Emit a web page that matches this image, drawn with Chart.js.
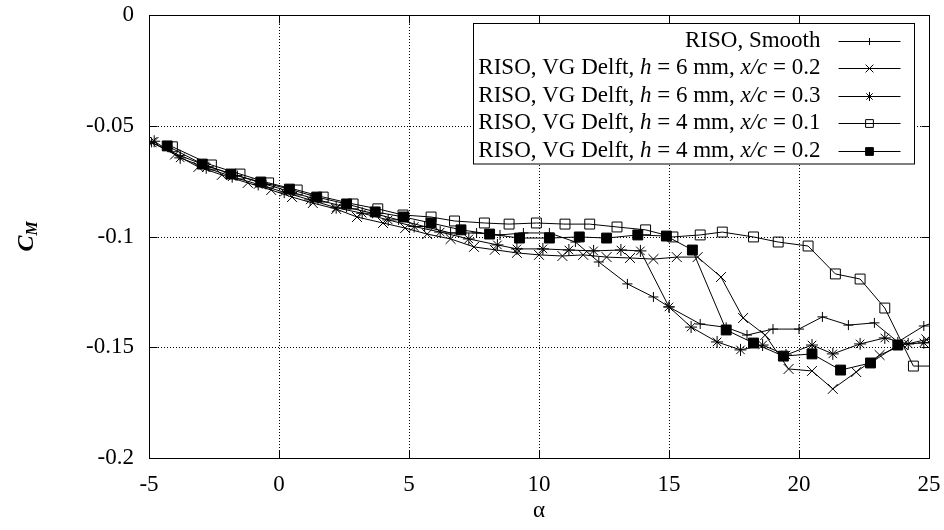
<!DOCTYPE html>
<html>
<head>
<meta charset="utf-8">
<script src="https://cdn.jsdelivr.net/npm/chart.js@4.4.0/dist/chart.umd.min.js"></script>
<style>
  html, body { margin: 0; padding: 0; background: #fff; }
  canvas { display: block; }
</style>
</head>
<body>
<canvas id="cmChart" width="944" height="530"></canvas>
<script>
const ctx = document.getElementById("cmChart").getContext("2d");

// axis ticks
const xTicks = [-5, 0, 5, 10, 15, 20, 25];
const xTickLabels = ["-5", "0", "5", "10", "15", "20", "25"];
const yTicks = [0, -0.05, -0.1, -0.15, -0.2];
const yTickLabels = ["0", "-0.05", "-0.1", "-0.15", "-0.2"];

// series names (h and x/c get italic in the legend)
const seriesNames = [
  "RISO, Smooth",
  "RISO, VG Delft, h = 6 mm, x/c = 0.2",
  "RISO, VG Delft, h = 6 mm, x/c = 0.3",
  "RISO, VG Delft, h = 4 mm, x/c = 0.1",
  "RISO, VG Delft, h = 4 mm, x/c = 0.2",
];

// RISO, Smooth
const alphaSmooth = [-4.9, -3.8, -2.7, -1.6, -0.5, 0.5, 1.5, 2.6, 3.6, 4.6, 5.6, 6.6, 7.6, 8.5, 9.4, 10.4, 11.4, 12.3, 13.4, 14.4, 15.0, 16.2, 17.2, 18.0, 19.0, 20.0, 20.9, 21.9, 22.9, 23.8, 24.8, 25.6];
const cmSmooth = [-0.0575, -0.0635, -0.0685, -0.0725, -0.0765, -0.08, -0.0835, -0.0868, -0.0895, -0.0925, -0.0955, -0.0984, -0.0984, -0.0993, -0.0984, -0.0984, -0.1025, -0.1115, -0.1214, -0.1273, -0.1318, -0.1395, -0.141, -0.1445, -0.1418, -0.1418, -0.1363, -0.14, -0.139, -0.1476, -0.1404, -0.137];

// h = 6 mm, x/c = 0.2
const alphaH6x02 = [-4.9, -4.0, -3.1, -2.2, -1.2, -0.3, 0.5, 1.3, 2.2, 3.0, 4.0, 4.85, 5.7, 6.6, 7.5, 8.3, 9.15, 10.0, 10.9, 11.7, 12.6, 13.5, 14.4, 15.3, 16.1, 17.0, 17.85, 18.7, 19.6, 20.5, 21.3, 22.2, 23.1, 24.0, 24.9, 25.8];
const cmH6x02 = [-0.0575, -0.063, -0.0686, -0.0722, -0.0758, -0.079, -0.0822, -0.0849, -0.0876, -0.0912, -0.0939, -0.0962, -0.0989, -0.1011, -0.1047, -0.106, -0.1074, -0.1083, -0.1088, -0.1083, -0.1093, -0.1097, -0.1102, -0.1093, -0.1093, -0.1183, -0.1368, -0.1445, -0.1598, -0.1607, -0.1688, -0.1612, -0.1535, -0.149, -0.1465, -0.145];

// h = 6 mm, x/c = 0.3
const alphaH6x03 = [-4.8, -3.8, -2.8, -1.8, -0.8, 0.2, 1.2, 2.2, 3.2, 4.2, 5.2, 6.2, 7.3, 8.4, 9.15, 10.15, 11.15, 12.1, 13.15, 13.9, 15.0, 15.85, 16.85, 17.75, 18.6, 19.5, 20.5, 21.3, 22.35, 23.3, 24.2, 24.8, 25.7];
const cmH6x03 = [-0.057, -0.0645, -0.069, -0.073, -0.0765, -0.08, -0.0835, -0.087, -0.0895, -0.0925, -0.0955, -0.098, -0.1011, -0.1038, -0.1056, -0.1056, -0.1061, -0.1065, -0.1061, -0.1065, -0.1318, -0.1409, -0.1476, -0.1512, -0.149, -0.1535, -0.149, -0.153, -0.1485, -0.1458, -0.1485, -0.148, -0.1475];

// h = 4 mm, x/c = 0.1
const alphaH4x01 = [-4.1, -2.6, -1.5, -0.4, 0.7, 1.7, 2.85, 3.8, 4.77, 5.85, 6.75, 7.9, 8.85, 9.9, 11.0, 11.95, 13.0, 14.1, 15.15, 16.2, 17.05, 18.25, 19.2, 20.35, 21.4, 22.35, 23.3, 24.4, 25.6];
const cmH4x01 = [-0.0595, -0.0677, -0.0718, -0.0758, -0.079, -0.0822, -0.0853, -0.0875, -0.0903, -0.0912, -0.093, -0.0939, -0.0944, -0.0939, -0.0944, -0.0944, -0.0957, -0.097, -0.1002, -0.0993, -0.098, -0.1002, -0.1025, -0.1043, -0.1169, -0.1192, -0.1323, -0.1585, -0.1585];

// h = 4 mm, x/c = 0.2
const alphaH4x02 = [-4.3, -2.95, -1.85, -0.7, 0.4, 1.45, 2.6, 3.7, 4.8, 5.85, 7.0, 8.1, 9.25, 10.4, 11.55, 12.6, 13.8, 14.9, 15.9, 17.2, 18.25, 19.4, 20.5, 21.6, 22.75, 23.8];
const cmH4x02 = [-0.0591, -0.0673, -0.0718, -0.0754, -0.0786, -0.0822, -0.0853, -0.0889, -0.0912, -0.0939, -0.097, -0.0989, -0.1007, -0.1007, -0.1002, -0.1007, -0.0993, -0.0998, -0.1061, -0.1422, -0.1481, -0.154, -0.153, -0.1603, -0.1571, -0.149];

const serif = "'Liberation Serif', 'Times New Roman', serif";
const fontSize = 23;

const toPoints = (xs, ys) => xs.map((a, i) => ({ x: a, y: ys[i] }));

// marker look per series
const markers = [
  { pointStyle: "cross", radius: 5, fill: "rgba(0,0,0,0)" },
  { pointStyle: "crossRot", radius: 7, fill: "rgba(0,0,0,0)" },
  { pointStyle: "star", radius: 6, fill: "rgba(0,0,0,0)" },
  { pointStyle: "rect", radius: 7, fill: "rgba(0,0,0,0)" },
  { pointStyle: "rect", radius: 7, fill: "#000" },
];

const seriesData = [
  toPoints(alphaSmooth, cmSmooth),
  toPoints(alphaH6x02, cmH6x02),
  toPoints(alphaH6x03, cmH6x03),
  toPoints(alphaH4x01, cmH4x01),
  toPoints(alphaH4x02, cmH4x02),
];

const datasets = seriesData.map((pts, i) => ({
  label: seriesNames[i],
  data: pts,
  showLine: true,
  borderColor: "#000",
  borderWidth: 1,
  tension: 0,
  fill: false,
  pointStyle: markers[i].pointStyle,
  pointRadius: markers[i].radius,
  pointBorderColor: "#000",
  pointBackgroundColor: markers[i].fill,
  pointBorderWidth: 1,
}));

// split a name so h and x/c can be set in italic
const labelParts = (str) => str.split(/(\bh\b|x\/c)/).filter((p) => p.length);
const partFont = (p) => (p === "h" || p === "x/c" ? "italic " : "") + fontSize + "px " + serif;

function labelWidth(c, str) {
  let w = 0;
  labelParts(str).forEach((p) => { c.font = partFont(p); w += c.measureText(p).width; });
  return w;
}

// right aligned at xRight
function drawLabel(c, str, xRight, yMid) {
  let cx = xRight - labelWidth(c, str);
  c.textAlign = "left";
  c.textBaseline = "middle";
  labelParts(str).forEach((p) => { c.font = partFont(p); c.fillText(p, cx, yMid); cx += c.measureText(p).width; });
}

// grid, frame, inward ticks, legend and axis titles, gnuplot style
const gnuplotLook = {
  id: "gnuplotLook",
  beforeDatasetsDraw(chart) {
    const { ctx: c, chartArea: a, scales: { x, y } } = chart;
    c.save();
    c.strokeStyle = "#000";
    c.lineWidth = 1;
    c.setLineDash([1, 2]);
    c.beginPath();
    xTicks.forEach((v) => {
      const px = Math.round(x.getPixelForValue(v)) + 0.5;
      c.moveTo(px, a.top); c.lineTo(px, a.bottom);
    });
    yTicks.forEach((v) => {
      const py = Math.round(y.getPixelForValue(v)) + 0.5;
      c.moveTo(a.left, py); c.lineTo(a.right, py);
    });
    c.stroke();
    c.restore();
  },
  afterDatasetsDraw(chart) {
    const { ctx: c, chartArea: a, scales: { x, y } } = chart;
    c.save();
    c.strokeStyle = "#000";
    c.fillStyle = "#000";
    c.lineWidth = 1;

    // frame
    const L = Math.round(a.left) + 0.5, R = Math.round(a.right) + 0.5;
    const T = Math.round(a.top) + 0.5, B = Math.round(a.bottom) + 0.5;
    c.strokeRect(L, T, R - L, B - T);

    // inward tick marks on all four sides
    const tl = 8;
    c.beginPath();
    xTicks.forEach((v) => {
      const px = Math.round(x.getPixelForValue(v)) + 0.5;
      c.moveTo(px, B); c.lineTo(px, B - tl);
      c.moveTo(px, T); c.lineTo(px, T + tl);
    });
    yTicks.forEach((v) => {
      const py = Math.round(y.getPixelForValue(v)) + 0.5;
      c.moveTo(L, py); c.lineTo(L + tl, py);
      c.moveTo(R, py); c.lineTo(R - tl, py);
    });
    c.stroke();

    // legend box
    const boxRight = R - 15;
    const boxTop = T + 8;
    const rowH = 27.5;
    const textRight = boxRight - 94;
    const widest = Math.max(...seriesNames.map((n) => labelWidth(c, n)));
    const boxLeft = Math.round(textRight - widest - 5) + 0.5;
    const boxBottom = boxTop + rowH * seriesNames.length + 3;
    c.fillStyle = "#fff";
    c.fillRect(boxLeft, boxTop, boxRight - boxLeft, boxBottom - boxTop);
    c.strokeRect(boxLeft, boxTop, boxRight - boxLeft, boxBottom - boxTop);

    seriesNames.forEach((n, i) => {
      const yMid = boxTop + 17 + i * rowH;
      const yLine = Math.round(yMid) + 0.5;
      c.fillStyle = "#000";
      drawLabel(c, n, textRight, yMid);
      c.beginPath();
      c.moveTo(boxRight - 76, yLine);
      c.lineTo(boxRight - 14, yLine);
      c.stroke();
      c.fillStyle = markers[i].fill;
      Chart.helpers.drawPoint(c, {
        pointStyle: markers[i].pointStyle,
        radius: markers[i].pointStyle === "rect" ? 5.5 : markers[i].radius - 1.5,
        rotation: 0,
        borderWidth: 1,
      }, boxRight - 45, yLine);
    });

    // axis titles
    c.fillStyle = "#000";
    c.textAlign = "center";
    c.textBaseline = "middle";
    c.font = fontSize + "px " + serif;
    c.fillText("\u03b1", (a.left + a.right) / 2, 511);

    c.translate(27, (a.top + a.bottom) / 2);
    c.rotate(-Math.PI / 2);
    c.font = "bold italic 24px " + serif;
    const wc = c.measureText("C").width;
    c.font = "bold italic 16px " + serif;
    const wm = c.measureText("M").width;
    c.textAlign = "left";
    c.font = "bold italic 24px " + serif;
    c.fillText("C", -(wc + wm) / 2, 0);
    c.font = "bold italic 16px " + serif;
    c.fillText("M", -(wc + wm) / 2 + wc, 6);
    c.restore();
  },
};

new Chart(ctx, {
  type: "scatter",
  data: { datasets },
  options: {
    responsive: false,
    animation: false,
    events: [],
    layout: { padding: { top: 15, right: 15, left: 0, bottom: 0 } },
    plugins: {
      legend: { display: false },
      tooltip: { enabled: false },
    },
    scales: {
      x: {
        type: "linear",
        min: -5,
        max: 25,
        afterBuildTicks: (s) => { s.ticks = xTicks.map((v) => ({ value: v })); },
        afterFit: (s) => { s.height = 72; s.paddingLeft = 0; s.paddingRight = 0; },
        ticks: {
          color: "#000",
          font: { family: serif, size: fontSize },
          padding: 13,
          maxRotation: 0,
          autoSkip: false,
          callback: (v) => xTickLabels[xTicks.indexOf(v)],
        },
        grid: { display: false, drawTicks: false },
        border: { display: false },
      },
      y: {
        type: "linear",
        min: -0.2,
        max: 0,
        afterBuildTicks: (s) => { s.ticks = yTicks.map((v) => ({ value: v })); },
        afterFit: (s) => { s.width = 149; s.paddingTop = 0; s.paddingBottom = 0; },
        ticks: {
          color: "#000",
          font: { family: serif, size: fontSize },
          padding: 15,
          autoSkip: false,
          callback: (v) => yTickLabels[yTicks.indexOf(v)],
        },
        grid: { display: false, drawTicks: false },
        border: { display: false },
      },
    },
  },
  plugins: [gnuplotLook],
});
</script>
</body>
</html>
